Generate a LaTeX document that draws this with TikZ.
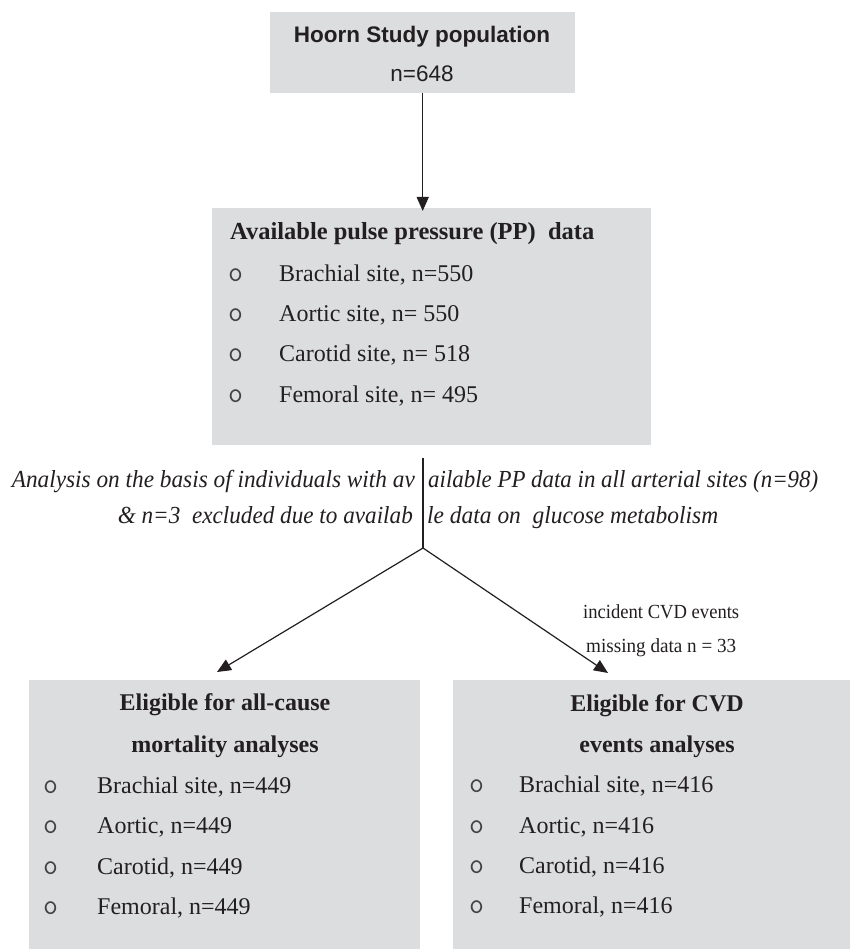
\documentclass[tikz,border=0pt]{standalone}
\usepackage{fontspec}
\usepackage{graphicx}
\setmainfont{Liberation Serif}
\newfontfamily\arialf{Liberation Sans}
\usetikzlibrary{arrows.meta}
\definecolor{boxgray}{RGB}{220,221,223}
\definecolor{ink}{RGB}{35,31,32}
\begin{document}
\begin{tikzpicture}[x=1pt,y=-1pt,
  box/.style={fill=boxgray, draw=none, anchor=north west, inner sep=0pt},
  txt/.style={anchor=base west, inner sep=0pt, text=ink, font=\fontsize{24}{28}\selectfont},
  ttl/.style={anchor=base, inner sep=0pt, text=ink, font=\fontsize{24}{28}\selectfont\bfseries},
  bul/.style={anchor=base west, inner sep=0pt, text=ink!85, font=\fontsize{29}{30}\selectfont\ttfamily},
  ital/.style={inner sep=0pt, text=ink, font=\fontsize{24.5}{26}\selectfont\itshape},
  small/.style={anchor=base west, inner sep=0pt, text=ink, font=\fontsize{20}{22}\selectfont},
  link/.style={draw=ink, line width=1.3pt},
  arr/.style={link, -{Triangle[width=12pt,length=14pt]}}]
\useasboundingbox (0,0) rectangle (850,949);
\fill[white] (0,0) rectangle (850,949);

% boxes
\node[box, minimum width=305pt, minimum height=81pt] (top) at (270,12) {};
\node[box, minimum width=439pt, minimum height=237pt] (pp) at (212,208) {};
\node[box, minimum width=391pt, minimum height=269pt] (mort) at (29,680) {};
\node[box, minimum width=397pt, minimum height=269pt] (cvd) at (453,680) {};

% top box text
\node[anchor=base, inner sep=0pt, text=ink, font=\fontsize{22.5}{26}\selectfont\arialf\bfseries] (toptitle) at (422,43) {Hoorn Study population};
\node[anchor=base, inner sep=0pt, text=ink, font=\fontsize{22.5}{26}\selectfont\arialf] (topn) at (422,82) {n=648};

% PP box
\node[txt, font=\fontsize{24.5}{28}\selectfont\bfseries] (pptitle) at (230,240) {Available pulse pressure (PP)\ \ data};
\node[bul] (ppb1) at (228,281) {o};
\node[txt] (ppi1) at (279,281) {Brachial site, n=550};
\node[bul] (ppb2) at (228,321) {o};
\node[txt] (ppi2) at (279,321) {Aortic site, n= 550};
\node[bul] (ppb3) at (228,361) {o};
\node[txt] (ppi3) at (279,361) {Carotid site, n= 518};
\node[bul] (ppb4) at (228,402) {o};
\node[txt] (ppi4) at (279,402) {Femoral site, n= 495};

% mortality box
\node[ttl] (mt1) at (225,710) {Eligible for all-cause};
\node[ttl] (mt2) at (225,752) {mortality analyses};
\node[bul] (mb1) at (43,793) {o};
\node[txt] (mi1) at (97,793) {Brachial site, n=449};
\node[bul] (mb2) at (43,833) {o};
\node[txt] (mi2) at (97,833) {Aortic, n=449};
\node[bul] (mb3) at (43,874) {o};
\node[txt] (mi3) at (97,874) {Carotid, n=449};
\node[bul] (mb4) at (43,914) {o};
\node[txt] (mi4) at (97,914) {Femoral, n=449};

% CVD box
\node[ttl] (ct1) at (657,711) {Eligible for CVD};
\node[ttl] (ct2) at (657,752) {events analyses};
\node[bul] (cb1) at (469,792) {o};
\node[txt] (ci1) at (519,792) {Brachial site, n=416};
\node[bul] (cb2) at (469,833) {o};
\node[txt] (ci2) at (519,833) {Aortic, n=416};
\node[bul] (cb3) at (469,873) {o};
\node[txt] (ci3) at (519,873) {Carotid, n=416};
\node[bul] (cb4) at (469,913) {o};
\node[txt] (ci4) at (519,913) {Femoral, n=416};

% italic split text
\node[ital, anchor=base east] (a1l) at (415,487) {\resizebox{403pt}{\height}{Analysis on the basis of individuals with av}};
\node[ital, anchor=base west] (a1r) at (428,487) {\resizebox{390pt}{\height}{ailable PP data in all arterial sites (n=98)}};
\node[ital, anchor=base east] (a2l) at (413,523) {\resizebox{295pt}{\height}{\&~n=3\ \ excluded due to availab}};
\node[ital, anchor=base west] (a2r) at (427,523) {\resizebox{291pt}{\height}{le data on\ \ glucose metabolism}};

% small labels
\node[small] (l1) at (583,618) {\resizebox{156pt}{\height}{incident CVD events}};
\node[small] (l2) at (586,652) {\resizebox{150pt}{\height}{missing data n = 33}};

% connectors
\coordinate (vtop) at (423,458);
\coordinate (junc) at (423,548);
\coordinate (ltip) at (217,672);
\coordinate (rtip) at (608,673);
\draw[arr] (top.south) -- ([yshift=-3pt]top.south |- pp.north);
\draw[link] (vtop) -- (junc);
\draw[arr, line width=1.2pt] (junc) -- (ltip);
\draw[arr, line width=1.2pt] (junc) -- (rtip);
\end{tikzpicture}
\end{document}
